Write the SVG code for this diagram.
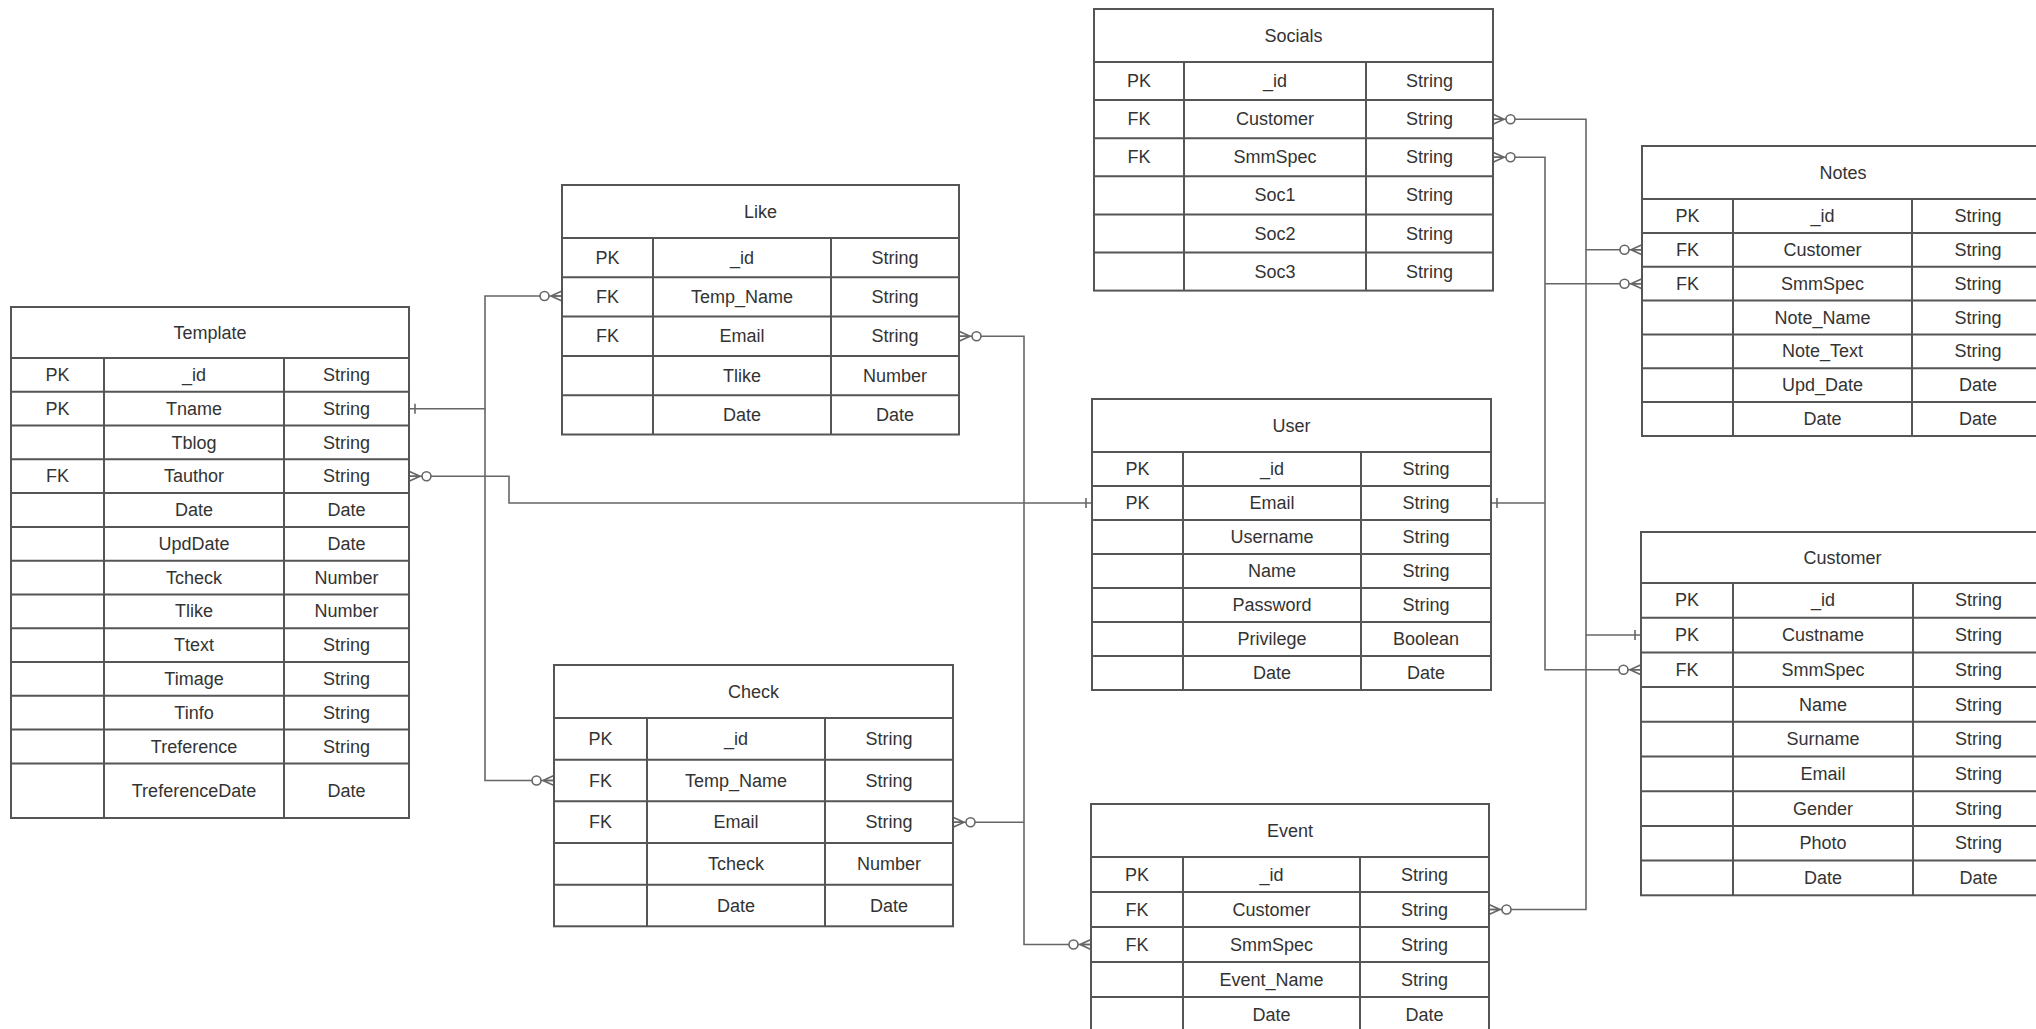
<svg xmlns="http://www.w3.org/2000/svg" width="2036" height="1029" viewBox="0 0 2036 1029">
<style>
.bg{fill:#ffffff}
.box{fill:#ffffff;stroke:#555;stroke-width:2}
.ln{stroke:#555;stroke-width:2;fill:none}
.t{font-family:"Liberation Sans",Arial,sans-serif;font-size:18px;fill:#333;text-anchor:middle;dominant-baseline:central}
.c{fill:none;stroke:#666;stroke-width:1.6}
</style>
<defs>
<marker id="many" viewBox="-26 -9 28 18" refX="0" refY="0" markerWidth="28" markerHeight="18" markerUnits="userSpaceOnUse" orient="auto">
<path d="M-11,0 L0,-5 M-11,0 L0,0 M-11,0 L0,5" fill="none" stroke="#666" stroke-width="1.6"/>
<circle cx="-17.5" cy="0" r="4.5" fill="#fff" stroke="#666" stroke-width="1.6"/>
</marker>
<marker id="manyS" viewBox="-26 -9 28 18" refX="0" refY="0" markerWidth="28" markerHeight="18" markerUnits="userSpaceOnUse" orient="auto-start-reverse">
<path d="M-11,0 L0,-5 M-11,0 L0,0 M-11,0 L0,5" fill="none" stroke="#666" stroke-width="1.6"/>
<circle cx="-17.5" cy="0" r="4.5" fill="#fff" stroke="#666" stroke-width="1.6"/>
</marker>
<marker id="one" viewBox="-12 -8 14 16" refX="0" refY="0" markerWidth="14" markerHeight="16" markerUnits="userSpaceOnUse" orient="auto">
<path d="M-6,-5 L-6,5" fill="none" stroke="#666" stroke-width="1.6"/>
</marker>
<marker id="oneS" viewBox="-12 -8 14 16" refX="0" refY="0" markerWidth="14" markerHeight="16" markerUnits="userSpaceOnUse" orient="auto-start-reverse">
<path d="M-6,-5 L-6,5" fill="none" stroke="#666" stroke-width="1.6"/>
</marker>
</defs>
<rect class="bg" x="0" y="0" width="2036" height="1029"/>

<g id="connectors">
<path class="c" d="M409,408.7 H485 V296 H562" marker-start="url(#oneS)" marker-end="url(#many)"/>
<path class="c" d="M485,408.7 V780.5 H554" marker-end="url(#many)"/>
<path class="c" d="M409,476.2 H509 V503 H1092" marker-start="url(#manyS)" marker-end="url(#one)"/>
<path class="c" d="M959,336.2 H1024 V944.5 H1091" marker-start="url(#manyS)" marker-end="url(#many)"/>
<path class="c" d="M953,822.2 H1024" marker-start="url(#manyS)"/>
<path class="c" d="M1493,157.3 H1545 V669.8 H1641" marker-start="url(#manyS)" marker-end="url(#many)"/>
<path class="c" d="M1545,283.7 H1642" marker-end="url(#many)"/>
<path class="c" d="M1491,503 H1545" marker-start="url(#oneS)"/>
<path class="c" d="M1493,119.2 H1586 V909.5 H1489" marker-start="url(#manyS)" marker-end="url(#many)"/>
<path class="c" d="M1586,249.8 H1642" marker-end="url(#many)"/>
<path class="c" d="M1586,635 H1641" marker-end="url(#one)"/>
</g>

<g id="template">
<rect class="box" x="11" y="307" width="398" height="511"/>
<path class="ln" d="M11,358 H409 M11,391.8 H409 M11,425.6 H409 M11,459.3 H409 M11,493.1 H409 M11,526.9 H409 M11,560.7 H409 M11,594.5 H409 M11,628.2 H409 M11,662 H409 M11,695.8 H409 M11,729.6 H409 M11,763.4 H409 M104,358 V818 M284,358 V818"/>
<text class="t" x="210" y="332.5">Template</text>
<text class="t" x="57.5" y="374.9">PK</text><text class="t" x="194" y="374.9">_id</text><text class="t" x="346.5" y="374.9">String</text>
<text class="t" x="57.5" y="408.7">PK</text><text class="t" x="194" y="408.7">Tname</text><text class="t" x="346.5" y="408.7">String</text>
<text class="t" x="194" y="442.5">Tblog</text><text class="t" x="346.5" y="442.5">String</text>
<text class="t" x="57.5" y="476.2">FK</text><text class="t" x="194" y="476.2">Tauthor</text><text class="t" x="346.5" y="476.2">String</text>
<text class="t" x="194" y="510">Date</text><text class="t" x="346.5" y="510">Date</text>
<text class="t" x="194" y="543.8">UpdDate</text><text class="t" x="346.5" y="543.8">Date</text>
<text class="t" x="194" y="577.6">Tcheck</text><text class="t" x="346.5" y="577.6">Number</text>
<text class="t" x="194" y="611.4">Tlike</text><text class="t" x="346.5" y="611.4">Number</text>
<text class="t" x="194" y="645.1">Ttext</text><text class="t" x="346.5" y="645.1">String</text>
<text class="t" x="194" y="678.9">Timage</text><text class="t" x="346.5" y="678.9">String</text>
<text class="t" x="194" y="712.7">Tinfo</text><text class="t" x="346.5" y="712.7">String</text>
<text class="t" x="194" y="746.5">Treference</text><text class="t" x="346.5" y="746.5">String</text>
<text class="t" x="194" y="790.7">TreferenceDate</text><text class="t" x="346.5" y="790.7">Date</text>
</g>

<g id="like">
<rect class="box" x="562" y="185" width="397" height="249.5"/>
<path class="ln" d="M562,238 H959 M562,277.3 H959 M562,316.6 H959 M562,355.9 H959 M562,395.2 H959 M653,238 V434.5 M831,238 V434.5"/>
<text class="t" x="760.5" y="211.5">Like</text>
<text class="t" x="607.5" y="257.7">PK</text><text class="t" x="742" y="257.7">_id</text><text class="t" x="895" y="257.7">String</text>
<text class="t" x="607.5" y="297">FK</text><text class="t" x="742" y="297">Temp_Name</text><text class="t" x="895" y="297">String</text>
<text class="t" x="607.5" y="336.3">FK</text><text class="t" x="742" y="336.3">Email</text><text class="t" x="895" y="336.3">String</text>
<text class="t" x="742" y="375.6">Tlike</text><text class="t" x="895" y="375.6">Number</text>
<text class="t" x="742" y="414.9">Date</text><text class="t" x="895" y="414.9">Date</text>
</g>

<g id="check">
<rect class="box" x="554" y="665" width="399" height="261.3"/>
<path class="ln" d="M554,718 H953 M554,759.7 H953 M554,801.3 H953 M554,843 H953 M554,884.7 H953 M647,718 V926.3 M825,718 V926.3"/>
<text class="t" x="753.5" y="691.5">Check</text>
<text class="t" x="600.5" y="738.9">PK</text><text class="t" x="736" y="738.9">_id</text><text class="t" x="889" y="738.9">String</text>
<text class="t" x="600.5" y="780.5">FK</text><text class="t" x="736" y="780.5">Temp_Name</text><text class="t" x="889" y="780.5">String</text>
<text class="t" x="600.5" y="822.2">FK</text><text class="t" x="736" y="822.2">Email</text><text class="t" x="889" y="822.2">String</text>
<text class="t" x="736" y="863.9">Tcheck</text><text class="t" x="889" y="863.9">Number</text>
<text class="t" x="736" y="905.5">Date</text><text class="t" x="889" y="905.5">Date</text>
</g>

<g id="socials">
<rect class="box" x="1094" y="9" width="399" height="281.6"/>
<path class="ln" d="M1094,62 H1493 M1094,100.1 H1493 M1094,138.2 H1493 M1094,176.3 H1493 M1094,214.4 H1493 M1094,252.5 H1493 M1184,62 V290.6 M1366,62 V290.6"/>
<text class="t" x="1293.5" y="35.5">Socials</text>
<text class="t" x="1139" y="81">PK</text><text class="t" x="1275" y="81">_id</text><text class="t" x="1429.5" y="81">String</text>
<text class="t" x="1139" y="119.2">FK</text><text class="t" x="1275" y="119.2">Customer</text><text class="t" x="1429.5" y="119.2">String</text>
<text class="t" x="1139" y="157.3">FK</text><text class="t" x="1275" y="157.3">SmmSpec</text><text class="t" x="1429.5" y="157.3">String</text>
<text class="t" x="1275" y="195.4">Soc1</text><text class="t" x="1429.5" y="195.4">String</text>
<text class="t" x="1275" y="233.5">Soc2</text><text class="t" x="1429.5" y="233.5">String</text>
<text class="t" x="1275" y="271.6">Soc3</text><text class="t" x="1429.5" y="271.6">String</text>
</g>

<g id="user">
<rect class="box" x="1092" y="399" width="399" height="291"/>
<path class="ln" d="M1092,452 H1491 M1092,486 H1491 M1092,520 H1491 M1092,554 H1491 M1092,588 H1491 M1092,622 H1491 M1092,656 H1491 M1183,452 V690 M1361,452 V690"/>
<text class="t" x="1291.5" y="425.5">User</text>
<text class="t" x="1137.5" y="469">PK</text><text class="t" x="1272" y="469">_id</text><text class="t" x="1426" y="469">String</text>
<text class="t" x="1137.5" y="503">PK</text><text class="t" x="1272" y="503">Email</text><text class="t" x="1426" y="503">String</text>
<text class="t" x="1272" y="537">Username</text><text class="t" x="1426" y="537">String</text>
<text class="t" x="1272" y="571">Name</text><text class="t" x="1426" y="571">String</text>
<text class="t" x="1272" y="605">Password</text><text class="t" x="1426" y="605">String</text>
<text class="t" x="1272" y="639">Privilege</text><text class="t" x="1426" y="639">Boolean</text>
<text class="t" x="1272" y="673">Date</text><text class="t" x="1426" y="673">Date</text>
</g>

<g id="event">
<rect class="box" x="1091" y="804" width="398" height="228"/>
<path class="ln" d="M1091,857 H1489 M1091,892 H1489 M1091,927 H1489 M1091,962 H1489 M1091,997 H1489 M1183,857 V1032 M1360,857 V1032"/>
<text class="t" x="1290" y="830.5">Event</text>
<text class="t" x="1137" y="874.5">PK</text><text class="t" x="1271.5" y="874.5">_id</text><text class="t" x="1424.5" y="874.5">String</text>
<text class="t" x="1137" y="909.5">FK</text><text class="t" x="1271.5" y="909.5">Customer</text><text class="t" x="1424.5" y="909.5">String</text>
<text class="t" x="1137" y="944.5">FK</text><text class="t" x="1271.5" y="944.5">SmmSpec</text><text class="t" x="1424.5" y="944.5">String</text>
<text class="t" x="1271.5" y="979.5">Event_Name</text><text class="t" x="1424.5" y="979.5">String</text>
<text class="t" x="1271.5" y="1014.5">Date</text><text class="t" x="1424.5" y="1014.5">Date</text>
</g>

<g id="notes">
<rect class="box" x="1642" y="146" width="402" height="290"/>
<path class="ln" d="M1642,199 H2044 M1642,232.9 H2044 M1642,266.7 H2044 M1642,300.6 H2044 M1642,334.4 H2044 M1642,368.3 H2044 M1642,402.1 H2044 M1733,199 V436 M1912,199 V436"/>
<text class="t" x="1843" y="172.5">Notes</text>
<text class="t" x="1687.5" y="216">PK</text><text class="t" x="1822.5" y="216">_id</text><text class="t" x="1978" y="216">String</text>
<text class="t" x="1687.5" y="249.8">FK</text><text class="t" x="1822.5" y="249.8">Customer</text><text class="t" x="1978" y="249.8">String</text>
<text class="t" x="1687.5" y="283.7">FK</text><text class="t" x="1822.5" y="283.7">SmmSpec</text><text class="t" x="1978" y="283.7">String</text>
<text class="t" x="1822.5" y="317.5">Note_Name</text><text class="t" x="1978" y="317.5">String</text>
<text class="t" x="1822.5" y="351.4">Note_Text</text><text class="t" x="1978" y="351.4">String</text>
<text class="t" x="1822.5" y="385.2">Upd_Date</text><text class="t" x="1978" y="385.2">Date</text>
<text class="t" x="1822.5" y="419.1">Date</text><text class="t" x="1978" y="419.1">Date</text>
</g>

<g id="customer">
<rect class="box" x="1641" y="532" width="403" height="363.3"/>
<path class="ln" d="M1641,583 H2044 M1641,617.7 H2044 M1641,652.4 H2044 M1641,687.1 H2044 M1641,721.8 H2044 M1641,756.5 H2044 M1641,791.2 H2044 M1641,825.9 H2044 M1641,860.6 H2044 M1733,583 V895.3 M1913,583 V895.3"/>
<text class="t" x="1842.5" y="557.5">Customer</text>
<text class="t" x="1687" y="600.4">PK</text><text class="t" x="1823" y="600.4">_id</text><text class="t" x="1978.5" y="600.4">String</text>
<text class="t" x="1687" y="635">PK</text><text class="t" x="1823" y="635">Custname</text><text class="t" x="1978.5" y="635">String</text>
<text class="t" x="1687" y="669.8">FK</text><text class="t" x="1823" y="669.8">SmmSpec</text><text class="t" x="1978.5" y="669.8">String</text>
<text class="t" x="1823" y="704.5">Name</text><text class="t" x="1978.5" y="704.5">String</text>
<text class="t" x="1823" y="739.2">Surname</text><text class="t" x="1978.5" y="739.2">String</text>
<text class="t" x="1823" y="773.9">Email</text><text class="t" x="1978.5" y="773.9">String</text>
<text class="t" x="1823" y="808.6">Gender</text><text class="t" x="1978.5" y="808.6">String</text>
<text class="t" x="1823" y="843.3">Photo</text><text class="t" x="1978.5" y="843.3">String</text>
<text class="t" x="1823" y="878">Date</text><text class="t" x="1978.5" y="878">Date</text>
</g>
</svg>
